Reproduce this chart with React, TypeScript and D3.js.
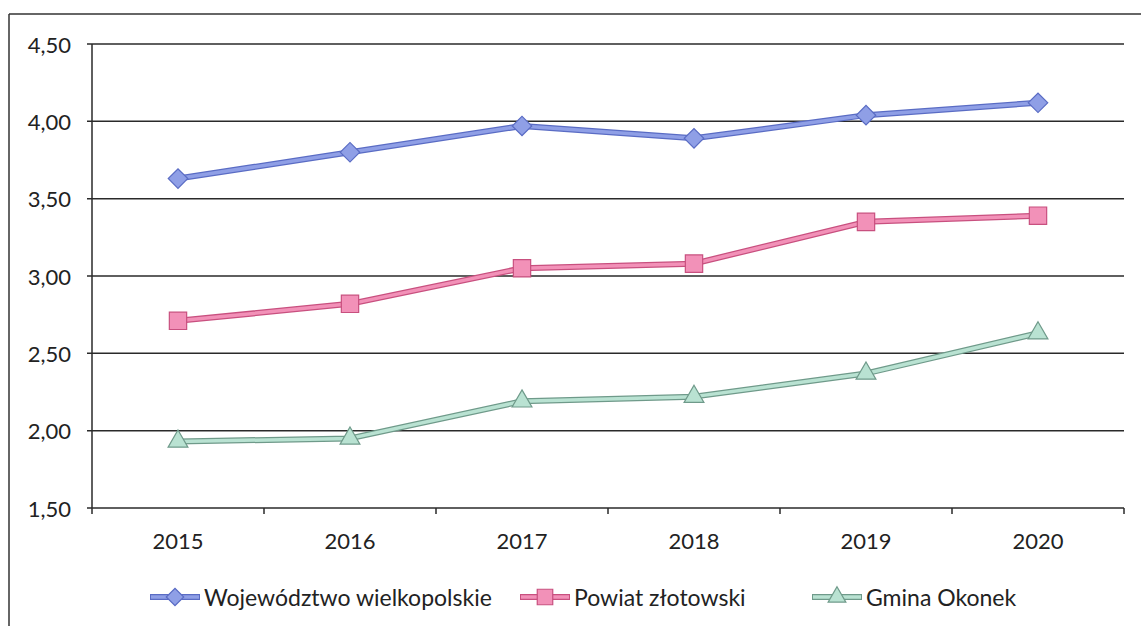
import { useEffect, useRef } from 'react';
import * as d3 from 'd3';

const YEARS = ['2015', '2016', '2017', '2018', '2019', '2020'];
const WOJEWODZTWO = [3.63, 3.8, 3.97, 3.89, 4.04, 4.12];
const POWIAT = [2.71, 2.82, 3.05, 3.08, 3.35, 3.39];
const GMINA = [1.93, 1.95, 2.19, 2.22, 2.37, 2.63];
const Y_TICKS = [1.5, 2.0, 2.5, 3.0, 3.5, 4.0, 4.5];

interface Series {
  name: string;
  values: number[];
  fill: string;
  edge: string;
  symbol: d3.SymbolType;
  size: number;
  rotate: number;
}

// romb jako obrócony kwadrat - szerszy niż d3.symbolDiamond, jak w Excelu
const SERIES: Series[] = [
  { name: 'Województwo wielkopolskie', values: WOJEWODZTWO, fill: '#8f9fe6', edge: '#5a6cc4', symbol: d3.symbolSquare, size: 190, rotate: 45 },
  { name: 'Powiat złotowski', values: POWIAT, fill: '#f291b8', edge: '#c8507f', symbol: d3.symbolSquare, size: 300, rotate: 0 },
  { name: 'Gmina Okonek', values: GMINA, fill: '#b9e2d2', edge: '#6f9a8a', symbol: d3.symbolTriangle, size: 170, rotate: 0 },
];

const W = 1141;
const H = 626;
const FONT = 'Lato, "Open Sans", sans-serif';

export default function App() {
  const ref = useRef<SVGSVGElement>(null);

  useEffect(() => {
    if (!ref.current) return;
    const svg = d3.select(ref.current);
    svg.selectAll('*').remove();

    const left = 92;
    const right = 1124;
    const top = 44;
    const bottom = 508;

    const x = d3.scaleBand<string>().domain(YEARS).range([left, right]);
    const y = d3.scaleLinear().domain([1.5, 4.5]).range([bottom, top]);

    // ramka
    svg.append('line').attr('x1', 9).attr('x2', W).attr('y1', 14).attr('y2', 14).attr('stroke', '#333').attr('stroke-width', 1.5);
    svg.append('line').attr('x1', 9).attr('x2', 9).attr('y1', 14).attr('y2', H).attr('stroke', '#333').attr('stroke-width', 1.5);

    // siatka
    Y_TICKS.forEach((t) => {
      svg.append('line')
        .attr('x1', left - 5).attr('x2', right)
        .attr('y1', y(t)).attr('y2', y(t))
        .attr('stroke', '#2a2a2a').attr('stroke-width', 1.5);
      svg.append('text')
        .attr('x', left - 21).attr('y', y(t))
        .attr('text-anchor', 'end').attr('dominant-baseline', 'central')
        .style('font-family', FONT).style('font-size', '22px').attr('fill', '#222')
        .text(d3.format('.2f')(t).replace('.', ','));
    });

    svg.append('line').attr('x1', left).attr('x2', left).attr('y1', top).attr('y2', bottom)
      .attr('stroke', '#2a2a2a').attr('stroke-width', 1.5);

    // znaczniki osi X
    const bounds = YEARS.map((yr) => x(yr)!).concat([right]);
    bounds.forEach((b) => {
      svg.append('line').attr('x1', b).attr('x2', b).attr('y1', bottom).attr('y2', bottom + 6)
        .attr('stroke', '#2a2a2a').attr('stroke-width', 1.5);
    });
    YEARS.forEach((yr) => {
      svg.append('text')
        .attr('x', x(yr)! + x.bandwidth() / 2).attr('y', bottom + 41)
        .attr('text-anchor', 'middle')
        .style('font-family', FONT).style('font-size', '22px').attr('fill', '#222')
        .text(yr);
    });

    const line = d3.line<number>()
      .x((_, i) => x(YEARS[i])! + x.bandwidth() / 2)
      .y((d) => y(d));

    SERIES.forEach((s) => {
      svg.append('path').attr('d', line(s.values)).attr('fill', 'none')
        .attr('stroke', s.edge).attr('stroke-width', 6).attr('stroke-linejoin', 'round');
      svg.append('path').attr('d', line(s.values)).attr('fill', 'none')
        .attr('stroke', s.fill).attr('stroke-width', 3.5).attr('stroke-linejoin', 'round');
      s.values.forEach((v, i) => {
        svg.append('path')
          .attr('d', d3.symbol().type(s.symbol).size(s.size)())
          .attr('transform', `translate(${x(YEARS[i])! + x.bandwidth() / 2},${y(v)}) rotate(${s.rotate})`)
          .attr('fill', s.fill).attr('stroke', s.edge).attr('stroke-width', 1.2);
      });
    });

    // legenda
    const legendX = [150, 520, 812];
    const ly = 597;
    SERIES.forEach((s, i) => {
      const lx = legendX[i];
      svg.append('line').attr('x1', lx).attr('x2', lx + 50).attr('y1', ly).attr('y2', ly)
        .attr('stroke', s.edge).attr('stroke-width', 6);
      svg.append('line').attr('x1', lx + 1).attr('x2', lx + 49).attr('y1', ly).attr('y2', ly)
        .attr('stroke', s.fill).attr('stroke-width', 3.5);
      svg.append('path')
        .attr('d', d3.symbol().type(s.symbol).size(s.size * 0.8)())
        .attr('transform', `translate(${lx + 25},${ly}) rotate(${s.rotate})`)
        .attr('fill', s.fill).attr('stroke', s.edge).attr('stroke-width', 1.2);
      svg.append('text')
        .attr('x', lx + 54).attr('y', ly).attr('dominant-baseline', 'central')
        .style('font-family', FONT).style('font-size', '23px').attr('fill', '#222')
        .text(s.name);
    });
  }, []);

  return (
    <svg
      ref={ref}
      width={W}
      height={H}
      style={{ position: 'absolute', left: 0, top: 0, background: '#fff' }}
    />
  );
}
